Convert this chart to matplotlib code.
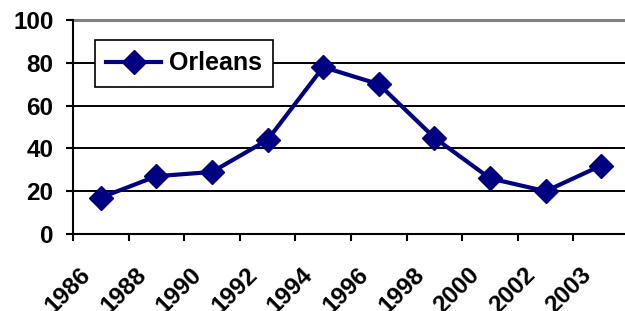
import numpy as np
import matplotlib.pyplot as plt
import matplotlib.transforms as mtransforms

years = ['1986', '1988', '1990', '1992', '1994', '1996', '1998', '2000', '2002', '2003']
orleans = [17, 27, 29, 44, 78, 70, 45, 26, 20, 32]

plt.rcParams['font.family'] = ['Liberation Sans', 'DejaVu Sans']
plt.rcParams['font.weight'] = 'bold'

fig = plt.figure(figsize=(6.25, 3.11), dpi=100)
ax = fig.add_axes([73 / 625, 1 - 234 / 311, 556 / 625, 214 / 311])

x = np.arange(len(years))
ax.plot(x, orleans, color='#000080', lw=3.0, marker='D', ms=12, label='Orleans')

ax.set_xlim(-0.5, len(years) - 0.5)
ax.set_ylim(0, 100)
ax.set_yticks(range(0, 101, 20))
for v in range(20, 100, 20):
    ax.axhline(v, color='black', lw=1.4, zorder=0)
ax.axhline(100, color='#808080', lw=2.2, zorder=0, clip_on=False)

# tick marks between categories, year labels drawn under the category centers
ax.set_xticks(np.arange(-0.5, len(years), 1.0))
ax.set_xticklabels([])
ax.tick_params(axis='x', length=5, width=1.5, direction='out')
shift = mtransforms.ScaledTranslation(-22 / 100, -29 / 100, fig.dpi_scale_trans)
trans = ax.get_xaxis_transform() + shift
for xi, yr in zip(x, years):
    ax.text(xi, 0, yr, transform=trans, rotation=45, ha='right', va='top',
            rotation_mode='anchor', fontsize=17.5, fontweight='bold', clip_on=False)

ax.tick_params(axis='y', length=5, width=1.5, labelsize=17.5, pad=9)
for lab in ax.get_yticklabels():
    lab.set_fontweight('bold')

ax.spines['top'].set_visible(False)
ax.spines['right'].set_visible(False)
ax.spines['left'].set_linewidth(1.5)
ax.spines['bottom'].set_linewidth(1.5)

leg = ax.legend(loc='upper left', bbox_to_anchor=(22 / 556, 194 / 214), fontsize=18,
                fancybox=False, framealpha=1, edgecolor='black', borderpad=0.45,
                handlelength=2.2, handletextpad=0.3, borderaxespad=0)
leg.get_frame().set_linewidth(1.2)
for t in leg.get_texts():
    t.set_fontweight('bold')

fig.savefig('out.png', dpi=100)
